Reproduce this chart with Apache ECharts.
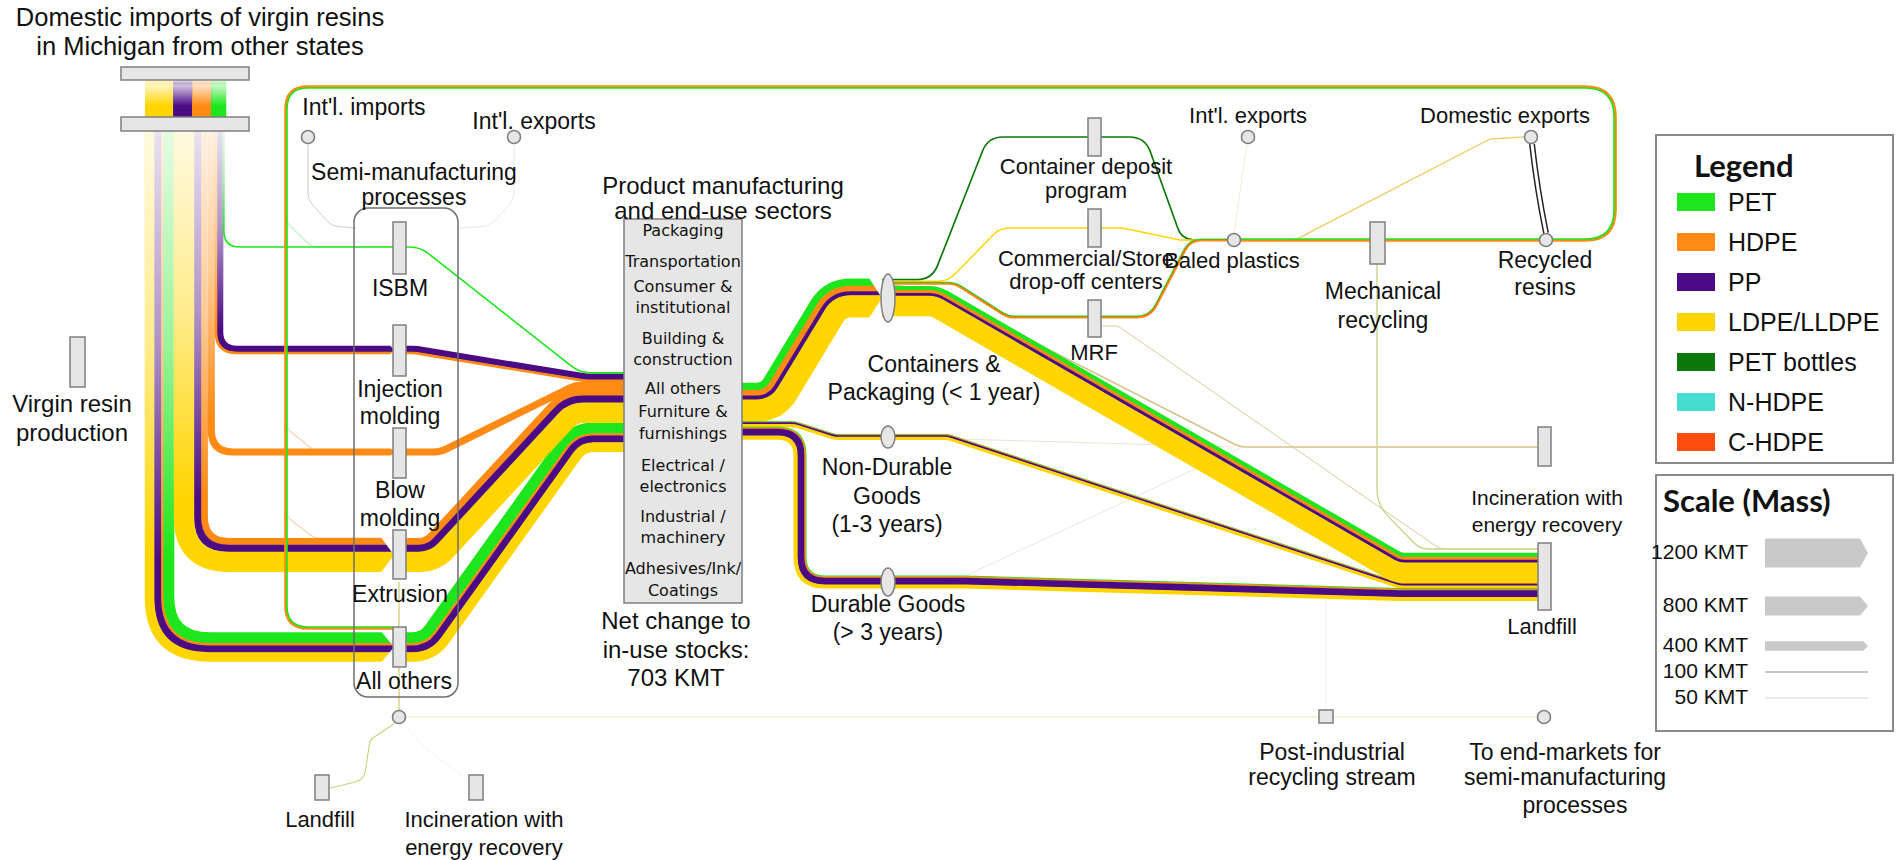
<!DOCTYPE html>
<html>
<head>
<meta charset="utf-8">
<title>Plastic flows in Michigan</title>
<script src="https://cdn.jsdelivr.net/npm/echarts@6.0.0/dist/echarts.min.js"></script>
<style>
html,body{margin:0;padding:0;background:#ffffff;}
#chart{width:1902px;height:860px;}
</style>
</head>
<body>
<div id="chart"></div>
<script>
// ================= DATA (masses in KMT) =================
const resins       = ['PET','HDPE','PP','LDPE/LLDPE','PET bottles','N-HDPE','C-HDPE'];
const importResins = ['LDPE/LLDPE','PP','HDPE','PET'];
const importKMT    = [1170, 790, 790, 620];

const isbmResins      = ['PET'];                          const isbmKMT      = [70];
const injectionResins = ['PP','HDPE'];                    const injectionKMT = [250, 90];
const blowResins      = ['HDPE'];                         const blowKMT      = [300];
const extrusionResins = ['HDPE','PP','LDPE/LLDPE'];       const extrusionKMT = [280, 290, 830];
const allOthersResins = ['PET','HDPE','PP','LDPE/LLDPE']; const allOthersKMT = [450, 100, 280, 380];

const sectorResins    = ['PET','HDPE','PP','LDPE/LLDPE'];
const containersKMT   = [300, 230, 170, 900];
const nonDurableKMT   = [20, 30, 70, 110];
const durableKMT      = [30, 60, 280, 150];
const packLandfillKMT = [170, 120, 120, 830];

const depositResins  = ['PET bottles'];          const depositKMT  = [70];
const dropOffResins  = ['LDPE/LLDPE'];           const dropOffKMT  = [60];
const mrfResins      = ['PET','C-HDPE','HDPE'];  const mrfKMT      = [40, 25, 45];
const recycledResins = ['PET','HDPE'];           const recycledKMT = [70, 60];

const minorNames = ['packToIncin','mrfToLandfill','nonDurToIncin','durToIncin','mechToLandfill',
  'baledToIntl','toDomExports','loopToISBM','loopToBlow','loopToExtrusion','intlImports',
  'intlExports','scrapDown','scrapStream','scrapToLandfill','scrapToIncin','postIndustrial'];
const minorKMT   = [70, 40, 35, 30, 55, 30, 60, 45, 45, 45, 35, 35, 45, 55, 45, 30, 30];

const scaleKMT    = [1200, 800, 400, 100, 50];
const scaleLabels = ['1200 KMT','800 KMT','400 KMT','100 KMT','50 KMT'];
const stockChange = '703 KMT';

// ================= STYLE =================
const PX_PER_KMT = 0.024;
const COLORS = {'PET':'#1de61d','HDPE':'#ff8a14','PP':'#4a0b85','LDPE/LLDPE':'#ffd500',
  'PET bottles':'#0c780c','N-HDPE':'#44ddd0','C-HDPE':'#ff4d0d'};
const NODE_FILL = '#e6e6e6', NODE_STROKE = '#7f7f7f';
const SANS = '"Liberation Sans", Arial, sans-serif';
const BOXFONT = '"DejaVu Sans", Verdana, sans-serif';
const BOLD = 'Lato, "Open Sans", sans-serif';

function bandWidth(kmt){ return kmt.reduce((s,v)=>s+v,0)*PX_PER_KMT; }

// ================= LAYOUT =================
const flows = [];
function addFlow(name, rs, kmt, route, radii, extra){
  flows.push(Object.assign({name, resins: rs, kmt, route, radii}, extra||{}));
}
const minorLayout = {
  packToIncin:     {route:[[888,285],[930,289],[1240,447],[1538,447]], radii:[0,20,20,0], color:'#d6c28e'},
  mrfToLandfill:   {route:[[1101,326],[1118,326],[1440,549],[1538,549]], radii:[0,10,20,0], color:'#d9c89a'},
  nonDurToIncin:   {route:[[894,437],[960,439],[1235,447]], radii:[0,20,0], color:'#e8dfc8'},
  durToIncin:      {route:[[894,580],[965,576],[1240,448]], radii:[0,20,0], color:'#dedede'},
  mechToLandfill:  {route:[[1377,262],[1377,505],[1420,549],[1538,549]], radii:[0,40,20,0], color:'#c4d782'},
  baledToIntl:     {route:[[1234,233],[1247,144]], radii:[0,0], color:'#e8e4c8'},
  toDomExports:    {route:[[1295,240],[1490,139],[1524,137]], radii:[0,15,0], color:'#f0d275'},
  loopToISBM:      {route:[[286,190],[286,222],[312,247],[393,247]], radii:[0,15,15,0], color:'#b8f2b8'},
  loopToBlow:      {route:[[286,400],[286,428],[316,452],[393,452]], radii:[0,15,15,0], color:'#f9d2ad'},
  loopToExtrusion: {route:[[286,495],[286,516],[314,538],[393,538]], radii:[0,15,15,0], color:'#f9d2ad'},
  intlImports:     {route:[[308,144],[308,200],[332,226],[356,228]], radii:[0,20,15,0], color:'#c4c4c4'},
  intlExports:     {route:[[514,144],[514,200],[490,226],[458,228]], radii:[0,20,15,0], color:'#e2e2e2'},
  scrapDown:       {route:[[399,582],[399,710]], radii:[0,0], color:'#ccc45a'},
  scrapStream:     {route:[[406,717],[1537,717]], radii:[0,0], color:'#efefd4'},
  scrapToLandfill: {route:[[395,723],[370,740],[364,780],[330,788]], radii:[0,10,14,0], color:'#cbd27a'},
  scrapToIncin:    {route:[[403,723],[425,748],[470,782]], radii:[0,10,0], color:'#eeeeee'},
  postIndustrial:  {route:[[1326,590],[1326,710]], radii:[0,0], color:'#eeeeee'}
};
minorNames.forEach((n,i)=>{
  const L = minorLayout[n];
  addFlow(n, ['minor'], [minorKMT[i]], L.route, L.radii, {color:L.color});
});

// virgin resin bundle (stacked left -> right below the import bars)
// name, resins, kmt, horizontal y, diag start x, diag end x, corner radius, fade end y
const bundle = [
  ['allOthers', allOthersResins, allOthersKMT, 647, 428, 578, 50, 560],
  ['extrusion', extrusionResins, extrusionKMT, 555, 432, 570, 38, 500],
  ['blow',      blowResins,      blowKMT,      452, 440, 575, 22, 420],
  ['injection', injectionResins, injectionKMT, 350, 415, 585, 18, 330],
  ['isbm',      isbmResins,      isbmKMT,      247, 420, 580, 16, 232]
];
const bundleX = {}; let bx = 145;
bundle.forEach(b=>{ const w = bandWidth(b[2]); bundleX[b[0]] = bx + w/2; bx += w; });
const boxInY = {}; let biy = 372;
['isbm','injection','blow','extrusion','allOthers'].forEach(n=>{
  const b = bundle.find(q=>q[0]===n); const w = bandWidth(b[2]); boxInY[n] = biy + w/2; biy += w;
});
bundle.forEach(b=>{
  const [n, rs, kmt, hy, x1, x2, r, fade] = b;
  const cx = bundleX[n], ey = boxInY[n];
  addFlow(n, rs, kmt, [[cx,131],[cx,hy],[x1,hy],[x2,ey],[624,ey]], [0,r,30,30,0], {fadeEnd: fade});
});

addFlow('recycledLoop', recycledResins, recycledKMT,
  [[1234,240],[1615,240],[1615,87],[286,87],[286,628],[393,628]], [0,30,30,22,22,0]);

const boxOut = {}; let boy = 383;
[['containers',containersKMT],['nonDurable',nonDurableKMT],['durable',durableKMT]].forEach(([n,k])=>{
  const w = bandWidth(k); boxOut[n] = boy + w/2; boy += w;
});
const lfIn = {}; let ly = 553;
[['packLandfill',packLandfillKMT],['nonDurable',nonDurableKMT],['durable',durableKMT]].forEach(([n,k])=>{
  const w = bandWidth(k); lfIn[n] = ly + w/2; ly += w;
});
const cOut = {}; let cy = 298 - bandWidth(containersKMT)/2;
[['deposit',depositKMT],['dropOff',dropOffKMT],['mrf',mrfKMT],['inc',[minorKMT[0]]],['packLandfill',packLandfillKMT]].forEach(([n,k])=>{
  const w = bandWidth(k); cOut[n] = cy + w/2; cy += w;
});

addFlow('deposit', depositResins, depositKMT, [[888,cOut.deposit],[932,cOut.deposit],[988,137],[1088,137]], [0,22,22,0]);
addFlow('depositOut', depositResins, depositKMT, [[1101,137],[1145,137],[1182,240],[1234,240]], [0,22,18,0]);
addFlow('dropOff', dropOffResins, dropOffKMT, [[888,cOut.dropOff],[948,cOut.dropOff],[1000,228],[1088,228]], [0,22,22,0]);
addFlow('dropOffOut', dropOffResins, dropOffKMT, [[1101,228],[1122,228],[1180,240],[1234,240]], [0,15,12,0]);
addFlow('mrf', mrfResins, mrfKMT, [[888,cOut.mrf],[955,cOut.mrf],[1008,317],[1088,317]], [0,22,22,0]);
addFlow('mrfOut', mrfResins, mrfKMT, [[1101,317],[1150,317],[1190,240],[1234,240]], [0,22,18,0]);

addFlow('containers', sectorResins, containersKMT,
  [[742,boxOut.containers],[772,boxOut.containers],[835,298],[888,298]], [0,28,28,0]);
addFlow('nonDurable', sectorResins, nonDurableKMT,
  [[742,boxOut.nonDurable],[795,boxOut.nonDurable],[835,437],[948,437],[1400,lfIn.nonDurable],[1538,lfIn.nonDurable]], [0,25,25,20,20,0]);
addFlow('durable', sectorResins, durableKMT,
  [[742,boxOut.durable],[800,boxOut.durable],[800,582],[965,582],[1400,lfIn.durable],[1538,lfIn.durable]], [0,22,25,20,20,0]);
addFlow('packLandfill', sectorResins, packLandfillKMT,
  [[888,cOut.packLandfill],[935,cOut.packLandfill],[1398,lfIn.packLandfill],[1538,lfIn.packLandfill]], [0,25,25,0]);

// pointed band ends where a band meets a node: [flow, node x, band centre y]
const arrowTips = [['allOthers',393,647],['extrusion',393,555],['blow',393,452],['injection',393,350],['containers',881,298]];

const rectNodes = [
  [121,67,128,13],[121,117,128,14],[70,337,15,50],
  [393,222,13,52],[393,325,13,51],[393,428,13,50],[393,530,13,49],[393,627,13,40],
  [1088,118,13,38],[1088,209,13,38],[1088,300,13,37],[1370,222,15,42],
  [1538,427,13,39],[1538,543,13,67],[315,775,14,25],[469,775,14,25],[1319,710,14,13]
];
const ellipseNodes = [[888,298,7,24],[888,437,7,11],[888,582,7,14]];
const circleNodes = [[308,137],[514,137],[1248,137],[1531,137],[1234,240],[1546,240],[399,717],[1544,717]];
const SEMI_BOX = [354,208,104,489];
const CENTER_BOX = [624,219,118,384];

const labels = [
  ['Domestic imports of virgin resins',200,17,25.5,SANS],
  ['in Michigan from other states',200,46,25.5,SANS],
  ["Int'l. imports",364,107,23,SANS],
  ["Int'l. exports",534,121,23,SANS],
  ['Semi-manufacturing',414,172,23,SANS],['processes',414,197,23,SANS],
  ['ISBM',400,288,23,SANS],
  ['Injection',400,389,23,SANS],['molding',400,416,23,SANS],
  ['Blow',400,490,23,SANS],['molding',400,518,23,SANS],
  ['Extrusion',400,594,23,SANS],
  ['All others',404,681,23,SANS],
  ['Virgin resin',72,403,24,SANS],['production',72,432,24,SANS],
  ['Product manufacturing',723,185,24,SANS],['and end-use sectors',723,210,24,SANS],
  ['Net change to',676,620,24,SANS],['in-use stocks:',676,649,24,SANS],[stockChange,676,677,24,SANS],
  ['Containers &',934,364,23,SANS],['Packaging (< 1 year)',934,392,23,SANS],
  ['Non-Durable',887,467,23,SANS],['Goods',887,496,23,SANS],['(1-3 years)',887,524,23,SANS],
  ['Durable Goods',888,604,23,SANS],['(> 3 years)',888,632,23,SANS],
  ['Container deposit',1086,166,22,SANS],['program',1086,190,22,SANS],
  ['Commercial/Store',1086,258,22,SANS],['drop-off centers',1086,281,22,SANS],
  ['MRF',1094,352,22,SANS],
  ['Baled plastics',1232,260,22,SANS],
  ["Int'l. exports",1248,115,22,SANS],
  ['Domestic exports',1505,115,22,SANS],
  ['Mechanical',1383,291,23,SANS],['recycling',1383,320,23,SANS],
  ['Recycled',1545,260,23,SANS],['resins',1545,287,23,SANS],
  ['Incineration with',1547,497,21,SANS],['energy recovery',1547,524,21,SANS],
  ['Landfill',1542,626,22,SANS],
  ['Post-industrial',1332,752,23,SANS],['recycling stream',1332,777,23,SANS],
  ['To end-markets for',1565,752,23,SANS],['semi-manufacturing',1565,777,23,SANS],['processes',1575,805,23,SANS],
  ['Landfill',320,819,22,SANS],
  ['Incineration with',484,819,22,SANS],['energy recovery',484,847,22,SANS]
];
const sectorItems = [
  ['Packaging',230],['Transportation',261],['Consumer &',286],['institutional',307],
  ['Building &',338],['construction',359],['All others',388],['Furniture &',411],
  ['furnishings',433],['Electrical /',465],['electronics',486],['Industrial /',516],
  ['machinery',537],['Adhesives/Ink/',568],['Coatings',590]
];
const LEGEND_BOX = [1656,135,237,328];
const SCALE_BOX = [1656,475,237,256];

// ================= GEOMETRY HELPERS =================
function offsetPts(pts, d){
  const n = pts.length, out = [];
  const nrm = (a,b)=>{ const dx=b[0]-a[0], dy=b[1]-a[1], l=Math.hypot(dx,dy)||1; return [-dy/l, dx/l]; };
  for (let i=0;i<n;i++){
    if (i===0){ const m=nrm(pts[0],pts[1]); out.push([pts[0][0]+m[0]*d, pts[0][1]+m[1]*d]); }
    else if (i===n-1){ const m=nrm(pts[n-2],pts[n-1]); out.push([pts[i][0]+m[0]*d, pts[i][1]+m[1]*d]); }
    else {
      const n1=nrm(pts[i-1],pts[i]), n2=nrm(pts[i],pts[i+1]);
      let mx=n1[0]+n2[0], my=n1[1]+n2[1]; const ml=Math.hypot(mx,my);
      if (ml<1e-6){ out.push([pts[i][0]+n1[0]*d, pts[i][1]+n1[1]*d]); continue; }
      mx/=ml; my/=ml; const c = mx*n1[0]+my*n1[1];
      out.push([pts[i][0]+mx*d/c, pts[i][1]+my*d/c]);
    }
  }
  return out;
}
function roundedPath(pts, radii, d){
  const n = pts.length, op = offsetPts(pts, d);
  const f = v => v.toFixed(2);
  let s = 'M' + f(op[0][0]) + ' ' + f(op[0][1]);
  for (let i=1;i<n-1;i++){
    const a=op[i-1], p=op[i], b=op[i+1];
    let u1x=p[0]-a[0], u1y=p[1]-a[1]; const l1=Math.hypot(u1x,u1y)||1; u1x/=l1; u1y/=l1;
    let u2x=b[0]-p[0], u2y=b[1]-p[1]; const l2=Math.hypot(u2x,u2y)||1; u2x/=l2; u2y/=l2;
    const cross = u1x*u2y - u1y*u2x;
    const dot = Math.max(-1, Math.min(1, u1x*u2x + u1y*u2y));
    const th = Math.acos(dot);
    let R = (radii && radii[i]) || 0;
    if (R<=0 || th<1e-3){ s += ' L' + f(p[0]) + ' ' + f(p[1]); continue; }
    R = Math.max(1, R - d*Math.sign(cross));
    let t = R*Math.tan(th/2);
    t = Math.min(t, l1*(i-1===0?0.95:0.5), l2*(i+1===n-1?0.95:0.5));
    s += ' L' + f(p[0]-u1x*t) + ' ' + f(p[1]-u1y*t) + ' Q' + f(p[0]) + ' ' + f(p[1]) + ' ' + f(p[0]+u2x*t) + ' ' + f(p[1]+u2y*t);
  }
  s += ' L' + f(op[n-1][0]) + ' ' + f(op[n-1][1]);
  return s;
}
function ellipsePath(cx, cy, rx, ry){
  return `M${cx-rx} ${cy} A${rx} ${ry} 0 1 0 ${cx+rx} ${cy} A${rx} ${ry} 0 1 0 ${cx-rx} ${cy} Z`;
}

// ================= RENDERERS =================
function renderFlow(params, api){
  const fl = flows[params.dataIndex];
  const pts = fl.route.map(p => api.coord(p));
  const widths = fl.kmt.map(v => v*PX_PER_KMT);
  const W = widths.reduce((a,b)=>a+b,0);
  const children = [];
  let off = -W/2;
  fl.resins.forEach((r,i)=>{
    const w = widths[i]; if (w<=0) return;
    const d = off + w/2; off += w;
    children.push({type:'path', shape:{pathData: roundedPath(pts, fl.radii, d)},
      style:{fill:'none', stroke: fl.color || COLORS[r], lineWidth: w + (fl.resins.length>1?0.5:0), lineCap:'butt', lineJoin:'round'}});
  });
  if (fl.fadeEnd){
    const p0 = pts[0], yEnd = api.coord([0, fl.fadeEnd])[1];
    children.push({type:'rect', shape:{x:p0[0]-W/2-0.5, y:p0[1], width:W+1, height:yEnd-p0[1]},
      style:{fill: new echarts.graphic.LinearGradient(0,0,0,1,[
        {offset:0,color:'rgba(255,255,255,0.88)'},{offset:0.5,color:'rgba(255,255,255,0.55)'},{offset:1,color:'rgba(255,255,255,0)'}])}});
  }
  return {type:'group', children};
}

function renderTips(params, api){
  const ch = [];
  arrowTips.forEach(([name, x, yc])=>{
    const fl = flows.find(f=>f.name===name);
    const W = bandWidth(fl.kmt);
    const a = Math.min(12, W*0.4);
    const p = api.coord([x, yc]);
    const top = p[1]-W/2-0.8, bot = p[1]+W/2+0.8;
    ch.push({type:'polygon', shape:{points:[[p[0]-a,top],[p[0]+1,top],[p[0]+1,p[1]]]}, style:{fill:'#fff'}});
    ch.push({type:'polygon', shape:{points:[[p[0]-a,bot],[p[0]+1,bot],[p[0]+1,p[1]]]}, style:{fill:'#fff'}});
  });
  return {type:'group', children: ch};
}

function renderImports(params, api){
  const children = [];
  let x = 145;
  importResins.forEach((r,i)=>{
    const w = importKMT[i]*PX_PER_KMT;
    const p1 = api.coord([x, 80]), p2 = api.coord([x+w, 117]);
    children.push({type:'rect', shape:{x:p1[0], y:p1[1], width:p2[0]-p1[0]+0.4, height:p2[1]-p1[1]},
      style:{fill: new echarts.graphic.LinearGradient(0,0,0,1,[
        {offset:0,color:'rgba(255,255,255,1)'},{offset:0.15,color:echarts.color.modifyAlpha(COLORS[r],0.25)},
        {offset:0.7,color:COLORS[r]},{offset:1,color:COLORS[r]}])}});
    x += w;
  });
  return {type:'group', children};
}

function renderNodes(params, api){
  const ch = [];
  const sb0 = api.coord([SEMI_BOX[0],SEMI_BOX[1]]);
  ch.push({type:'rect', shape:{x:sb0[0], y:sb0[1], width:SEMI_BOX[2], height:SEMI_BOX[3], r:14},
    style:{fill:'none', stroke:'#6f6f6f', lineWidth:1.5}});
  const cb = api.coord([CENTER_BOX[0],CENTER_BOX[1]]);
  ch.push({type:'rect', shape:{x:cb[0], y:cb[1], width:CENTER_BOX[2], height:CENTER_BOX[3]},
    style:{fill:NODE_FILL, stroke:NODE_STROKE, lineWidth:1.5}});
  rectNodes.forEach(r=>{
    const p = api.coord([r[0],r[1]]);
    ch.push({type:'rect', shape:{x:p[0], y:p[1], width:r[2], height:r[3]},
      style:{fill:NODE_FILL, stroke:NODE_STROKE, lineWidth:1.5}});
  });
  ellipseNodes.forEach(e=>{
    const p = api.coord([e[0],e[1]]);
    ch.push({type:'path', shape:{pathData: ellipsePath(p[0],p[1],e[2],e[3])},
      style:{fill:NODE_FILL, stroke:NODE_STROKE, lineWidth:1.5}});
  });
  circleNodes.forEach(c=>{
    const p = api.coord(c);
    ch.push({type:'circle', shape:{cx:p[0], cy:p[1], r:6.5}, style:{fill:NODE_FILL, stroke:NODE_STROKE, lineWidth:1.5}});
  });
  const a = api.coord([1546,233]), b = api.coord([1532,144]);
  const dp = `M${a[0]} ${a[1]} Q${a[0]-9} ${(a[1]+b[1])/2} ${b[0]} ${b[1]}`;
  ch.push({type:'path', shape:{pathData:dp}, style:{fill:'none', stroke:'#222', lineWidth:6}});
  ch.push({type:'path', shape:{pathData:dp}, style:{fill:'none', stroke:'#fff', lineWidth:3}});
  return {type:'group', children: ch};
}

function txt(api, s, x, y, size, family, weight, align){
  const p = api.coord([x,y]);
  return {type:'text', style:{text:s, x:p[0], y:p[1], fill:'#111', fontSize:size, fontFamily:family,
    fontWeight: weight||'normal', align: align||'center', verticalAlign:'middle'}};
}
function renderLabels(params, api){
  const ch = labels.map(l => txt(api, l[0], l[1], l[2], l[3], l[4], l[5], l[6]));
  sectorItems.forEach(s => ch.push(txt(api, s[0], 683, s[1], 16, BOXFONT)));
  return {type:'group', children: ch};
}

function renderLegend(params, api){
  const ch = [];
  const lb = api.coord([LEGEND_BOX[0], LEGEND_BOX[1]]);
  ch.push({type:'rect', shape:{x:lb[0], y:lb[1], width:LEGEND_BOX[2], height:LEGEND_BOX[3]}, style:{fill:'#fff', stroke:'#8a8a8a', lineWidth:2}});
  ch.push(txt(api, 'Legend', 1694, 165, 31, BOLD, 'bold', 'left'));
  resins.forEach((r,i)=>{
    const y = 202 + i*40;
    const p = api.coord([1677, y-9]);
    ch.push({type:'rect', shape:{x:p[0], y:p[1], width:38, height:18}, style:{fill:COLORS[r]}});
    ch.push(txt(api, r, 1728, y, 25, SANS, 'normal', 'left'));
  });
  const sb = api.coord([SCALE_BOX[0], SCALE_BOX[1]]);
  ch.push({type:'rect', shape:{x:sb[0], y:sb[1], width:SCALE_BOX[2], height:SCALE_BOX[3]}, style:{fill:'#fff', stroke:'#8a8a8a', lineWidth:2}});
  ch.push(txt(api, 'Scale (Mass)', 1663, 500, 31, BOLD, 'bold', 'left'));
  const ys = [553, 606, 646, 672, 698];
  scaleKMT.forEach((v,i)=>{
    const h = v*PX_PER_KMT, y = ys[i];
    const p0 = api.coord([1765, y]), p1 = api.coord([1868, y]);
    if (h >= 8){
      const tip = Math.min(h/2, 8);
      ch.push({type:'polygon', shape:{points:[[p0[0],y-h/2],[p1[0]-tip,y-h/2],[p1[0],y],[p1[0]-tip,y+h/2],[p0[0],y+h/2]]},
        style:{fill:'#c9c9c9'}});
    } else {
      ch.push({type:'line', shape:{x1:p0[0], y1:y, x2:p1[0], y2:y}, style:{stroke: v>=100?'#b4b4b4':'#d2d2d2', lineWidth: Math.max(1,h*0.7)}});
    }
    ch.push(txt(api, scaleLabels[i], 1748, y-2, 21, SANS, 'normal', 'right'));
  });
  return {type:'group', children: ch};
}

// ================= CHART =================
const chart = echarts.init(document.getElementById('chart'), null, {renderer:'svg', width:1902, height:860});
chart.setOption({
  animation:false,
  backgroundColor:'#ffffff',
  grid:{left:0, right:0, top:0, bottom:0},
  xAxis:{type:'value', min:0, max:1902, show:false},
  yAxis:{type:'value', min:0, max:860, inverse:true, show:false},
  series:[
    {type:'custom', name:'flows', coordinateSystem:'cartesian2d', clip:false, silent:true,
      data: flows.map((f,i)=>[0,0,i]), renderItem: renderFlow, z:1},
    {type:'custom', name:'tips', coordinateSystem:'cartesian2d', clip:false, silent:true,
      data:[[0,0]], renderItem: renderTips, z:2},
    {type:'custom', name:'imports', coordinateSystem:'cartesian2d', clip:false, silent:true,
      data:[[0,0]], renderItem: renderImports, z:2},
    {type:'custom', name:'nodes', coordinateSystem:'cartesian2d', clip:false, silent:true,
      data:[[0,0]], renderItem: renderNodes, z:3},
    {type:'custom', name:'labels', coordinateSystem:'cartesian2d', clip:false, silent:true,
      data:[[0,0]], renderItem: renderLabels, z:4},
    {type:'custom', name:'legend', coordinateSystem:'cartesian2d', clip:false, silent:true,
      data:[[0,0]], renderItem: renderLegend, z:5}
  ]
});
</script>
</body>
</html>
